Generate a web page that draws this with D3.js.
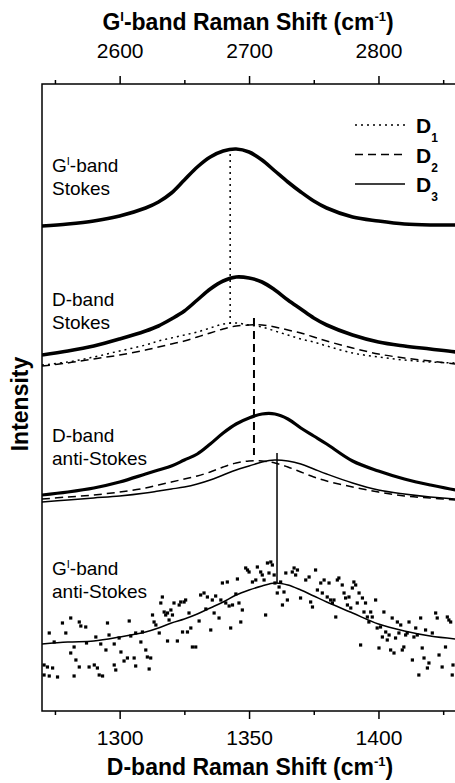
<!DOCTYPE html>
<html>
<head>
<meta charset="utf-8">
<script src="https://cdn.jsdelivr.net/npm/d3@7"></script>
<style>
  body { margin: 0; background: #fff; }
  text { font-family: "Liberation Sans", Arial, Helvetica, sans-serif; fill: #000; }
</style>
</head>
<body>
<div id="container"></div>
<script>
/* DATA */
// D-band Raman shift (cm-1) sampled for every curve
const shift = [1270,1280,1290,1300,1310,1315,1320,1325,1330,1335,1340,1345,1350,1355,1360,1365,1370,1375,1380,1390,1400,1410,1420,1430,1440];

// intensities (a.u., curves offset vertically)
const gStokes    = [485,487,490,495,503,509,518,531,544,554,560,562,559,551,540,529,519,510,503,494,490,487,486,486,485];
const dStokes    = [356,360,365,372,380,385,392,400,411,422,430,434,433,429,421,411,402,393,386,376,369,365,362,359,357];
const dStokesD1  = [346,349,354,360,366,370,373,376,379,383,387,388,386,384,380,376,372,369,365,358,354,351,349,348,347];
const dStokesD2  = [345,348,352,356,361,364,367,370,374,378,382,385,386,386,384,381,378,374,370,363,357,353,350,347,345];
const dAnti      = [216,219,223,229,237,241,245,251,257,267,278,287,293,297,297,292,283,275,267,250,240,232,226,221,218];
const dAntiD2    = [212,214,216,219,223,226,229,232,235,239,244,248,250,250,248,244,239,234,230,224,219,215,213,211,210];
const dAntiD3    = [209,211,213,215,218,220,222,224,227,231,236,241,245,249,251,250,247,242,237,228,221,217,214,212,211];
const gAntiD3    = [67,69,70,74,79,83,88,92,97,103,109,116,121,125,128,126,121,115,109,98,87,80,75,72,70];

// G'-band anti-Stokes measured points [shift, intensity]
const gAntiPoints = [
  [1270.8,46],[1272.1,44],[1274.1,43],[1272.8,35],[1270.8,36],[1276.0,34],[1272.8,78],[1274.7,69],[1277.9,88],[1279.2,78],
  [1281.1,93],[1282.4,64],[1281.1,58],[1284.4,89],[1285.0,85],[1283.1,51],[1284.4,44],[1282.4,35],[1286.9,84],[1287.2,68],
  [1288.2,44],[1290.2,46],[1291.4,43],[1290.8,74],[1292.7,67],[1292.1,36],[1293.4,35],[1295.3,88],[1295.9,76],[1294.7,61],
  [1297.9,67],[1297.9,46],[1298.5,41],[1299.8,73],[1300.5,59],[1301.7,50],[1303.0,53],[1303.7,90],[1304.3,75],[1305.6,53],
  [1306.2,45],[1306.2,78],[1308.2,69],[1308.8,79],[1310.1,61],[1310.7,54],[1312.0,53],[1311.4,42],[1312.7,96],[1313.3,89],
  [1314.0,86],[1315.3,78],[1315.9,108],[1316.5,114],[1317.2,99],[1317.8,96],[1318.5,98],[1319.1,91],[1318.5,70],[1319.8,101],
  [1320.4,96],[1321.0,108],[1322.3,70],[1323.0,106],[1323.6,109],[1324.3,79],[1324.9,109],[1325.5,111],[1326.2,79],[1326.8,98],
  [1327.5,83],[1328.1,64],[1329.4,64],[1330.7,90],[1331.3,116],[1332.6,118],[1333.9,114],[1333.3,102],[1335.2,81],[1335.8,111],
  [1336.5,98],[1337.1,115],[1338.4,93],[1339.1,111],[1339.7,128],[1341.0,108],[1341.6,129],[1342.3,105],[1342.9,83],[1343.6,106],
  [1344.9,117],[1345.5,132],[1346.1,108],[1346.8,89],[1347.4,101],[1348.7,143],[1349.4,141],[1350.0,139],[1351.3,129],[1352.6,131],
  [1353.2,144],[1354.5,139],[1355.1,136],[1355.8,131],[1356.4,96],[1357.1,148],[1357.7,138],[1358.4,149],[1359.0,146],[1359.7,136],
  [1360.0,128],[1360.9,118],[1361.6,124],[1362.2,129],[1362.9,106],[1363.5,119],[1364.2,138],[1364.8,111],[1366.7,139],[1367.4,143],
  [1368.0,136],[1368.7,141],[1369.9,113],[1371.9,131],[1373.2,134],[1373.8,109],[1374.5,104],[1375.7,141],[1376.4,121],[1377.7,128],
  [1378.3,118],[1379.0,131],[1380.2,114],[1380.9,128],[1381.5,111],[1382.2,108],[1382.8,111],[1383.5,94],[1384.1,131],[1384.7,133],
  [1386.0,126],[1386.7,118],[1387.3,113],[1388.0,106],[1388.6,114],[1389.3,103],[1389.9,123],[1390.5,129],[1391.2,126],[1391.8,108],
  [1392.5,118],[1393.1,66],[1393.8,113],[1394.4,99],[1395.0,108],[1395.7,94],[1396.3,89],[1397.0,99],[1397.6,94],[1398.9,111],
  [1399.5,83],[1400.2,63],[1400.8,84],[1401.5,74],[1402.1,99],[1402.8,79],[1403.4,71],[1404.1,76],[1404.7,61],[1405.3,93],
  [1406.0,58],[1406.6,73],[1407.3,89],[1407.9,78],[1408.6,86],[1409.2,61],[1409.8,64],[1410.5,76],[1411.1,78],[1411.8,89],
  [1413.1,51],[1413.7,74],[1414.4,83],[1415.0,76],[1415.6,36],[1416.3,93],[1416.9,63],[1417.6,53],[1418.2,81],[1418.9,43],
  [1419.5,48],[1420.8,78],[1422.1,98],[1422.7,93],[1423.4,56],[1424.6,44],[1425.9,64],[1426.6,94],[1427.2,91],[1427.9,89],
  [1428.5,36],[1428.8,46]
];

// fitted peak positions D1, D2, D3 and the extent of their marker lines
const peakNames  = ["D1", "D2", "D3"];
const peakShift  = [1342.7, 1351.9, 1360.8];
const peakTop    = [563, 393, 258];
const peakBottom = [386, 256, 128];

// ticks
const dTicks = [1300, 1350, 1400];
const dMinor = [1275, 1325, 1375, 1425];
const gTicks = [2600, 2700, 2800];
const gMinor = [2550, 2650, 2750, 2850];

/* CONSTANTS */
const width = 455, height = 783;
const mLeft = 42, mRight = 482, mTop = 84, mBottom = 711;
const dash = { D1: "2,4", D2: "8,5", D3: null };

const svg = d3.select("#container")
  .append("svg")
  .attr("width", width)
  .attr("height", height);

svg.append("rect").attr("width", width).attr("height", height).attr("fill", "#fff");

/* SCALES */
const x = d3.scaleLinear().domain([1270, 1440]).range([mLeft, mRight]);
const xTop = d3.scaleLinear().domain([2540, 2880]).range([mLeft, mRight]);
const y = d3.scaleLinear().domain([0, 627]).range([mBottom, mTop]);

/* AXES */
function ticks(axis, g) {
  g.call(axis);
  g.select(".domain").remove();
  g.selectAll(".tick line").attr("stroke", "#000").attr("stroke-width", 1.5);
  return g;
}

const bx = svg.append("g").attr("transform", `translate(0,${mBottom})`);
ticks(d3.axisBottom(x).tickValues(dTicks).tickSize(8).tickFormat(d3.format("d")), bx);
bx.selectAll("text").attr("y", 0).attr("dy", 0).attr("transform", "translate(0,34)")
  .attr("fill", "#000").style("font-size", "21px");
ticks(d3.axisBottom(x).tickValues(dMinor).tickSize(4).tickFormat(""),
  svg.append("g").attr("transform", `translate(0,${mBottom})`));

const tx = svg.append("g").attr("transform", `translate(0,${mTop})`);
ticks(d3.axisTop(xTop).tickValues(gTicks).tickSize(8).tickFormat(d3.format("d")), tx);
tx.selectAll("text").attr("y", 0).attr("dy", 0).attr("transform", "translate(0,-26)")
  .attr("fill", "#000").style("font-size", "21px");
ticks(d3.axisTop(xTop).tickValues(gMinor).tickSize(4).tickFormat(""),
  svg.append("g").attr("transform", `translate(0,${mTop})`));

// frame
svg.append("rect")
  .attr("x", mLeft).attr("y", mTop)
  .attr("width", mRight - mLeft).attr("height", mBottom - mTop)
  .attr("fill", "none").attr("stroke", "#000").attr("stroke-width", 1.5);

// axis titles
const topTitle = svg.append("text")
  .attr("x", 248).attr("y", 30)
  .attr("text-anchor", "middle")
  .style("font-size", "23px").style("font-weight", "bold");
topTitle.append("tspan").text("G");
topTitle.append("tspan").attr("dy", -9).style("font-size", "13px").text("I");
topTitle.append("tspan").attr("dy", 9).text("-band Raman Shift (cm");
topTitle.append("tspan").attr("dy", -9).style("font-size", "13px").text("-1");
topTitle.append("tspan").attr("dy", 9).text(")");

const botTitle = svg.append("text")
  .attr("x", 250).attr("y", 775)
  .attr("text-anchor", "middle")
  .style("font-size", "23px").style("font-weight", "bold");
botTitle.append("tspan").text("D-band Raman Shift (cm");
botTitle.append("tspan").attr("dy", -9).style("font-size", "13px").text("-1");
botTitle.append("tspan").attr("dy", 9).text(")");

svg.append("text")
  .attr("transform", "translate(28,404) rotate(-90)")
  .attr("text-anchor", "middle")
  .style("font-size", "23px").style("font-weight", "bold")
  .text("Intensity");

/* CURVES */
const line = d3.line()
  .x((d, i) => x(shift[i]))
  .y(d => y(d))
  .curve(d3.curveCatmullRom);

const curves = [
  { values: gStokes,   w: 3.6, dash: null },
  { values: dStokes,   w: 3.6, dash: null },
  { values: dStokesD1, w: 1.5, dash: dash.D1 },
  { values: dStokesD2, w: 1.5, dash: dash.D2 },
  { values: dAnti,     w: 3.2, dash: null },
  { values: dAntiD2,   w: 1.5, dash: dash.D2 },
  { values: dAntiD3,   w: 1.5, dash: dash.D3 },
  { values: gAntiD3,   w: 1.5, dash: dash.D3 }
];

svg.append("clipPath").attr("id", "clip")
  .append("rect").attr("x", mLeft).attr("y", mTop).attr("width", mRight - mLeft).attr("height", mBottom - mTop);

const plot = svg.append("g").attr("clip-path", "url(#clip)");

plot.selectAll("path.curve")
  .data(curves)
  .join("path")
  .attr("class", "curve")
  .attr("d", d => line(d.values))
  .attr("fill", "none")
  .attr("stroke", "#000")
  .attr("stroke-width", d => d.w)
  .attr("stroke-dasharray", d => d.dash);

// measured points, G'-band anti-Stokes
plot.selectAll("rect.pt")
  .data(gAntiPoints)
  .join("rect")
  .attr("class", "pt")
  .attr("x", d => x(d[0]) - 1.6)
  .attr("y", d => y(d[1]) - 1.6)
  .attr("width", 3.2).attr("height", 3.2)
  .attr("fill", "#000");

// peak position markers
plot.selectAll("line.peak")
  .data(peakNames)
  .join("line")
  .attr("class", "peak")
  .attr("x1", (d, i) => x(peakShift[i])).attr("x2", (d, i) => x(peakShift[i]))
  .attr("y1", (d, i) => y(peakTop[i])).attr("y2", (d, i) => y(peakBottom[i]))
  .attr("stroke", "#000")
  .attr("stroke-width", (d, i) => i == 1 ? 2 : 1.5)
  .attr("stroke-dasharray", d => dash[d]);

/* PANEL LABELS */
const labels = [
  { lines: [["G", "I", "-band"], ["Stokes"]], y: 172 },
  { lines: [["D-band"], ["Stokes"]], y: 306 },
  { lines: [["D-band"], ["anti-Stokes"]], y: 442 },
  { lines: [["G", "I", "-band"], ["anti-Stokes"]], y: 575 }
];
labels.forEach(l => {
  l.lines.forEach((parts, k) => {
    const t = svg.append("text")
      .attr("x", 52).attr("y", l.y + k * 23)
      .style("font-size", "19px");
    if (parts.length == 3) {
      t.append("tspan").text(parts[0]);
      t.append("tspan").attr("dy", -7).style("font-size", "11px").text(parts[1]);
      t.append("tspan").attr("dy", 7).text(parts[2]);
    } else {
      t.text(parts[0]);
    }
  });
});

/* LEGEND */
const legend = svg.append("g");
peakNames.forEach((name, i) => {
  const ly = 125 + i * 29.5;
  legend.append("line")
    .attr("x1", 355).attr("x2", 405)
    .attr("y1", ly).attr("y2", ly)
    .attr("stroke", "#000").attr("stroke-width", 1.5)
    .attr("stroke-dasharray", dash[name]);
  const t = legend.append("text")
    .attr("x", 416).attr("y", ly + 8)
    .style("font-size", "21px").style("font-weight", "bold");
  t.append("tspan").text("D");
  t.append("tspan").attr("dy", 9).style("font-size", "12px").text(name.slice(1));
});
</script>
</body>
</html>
